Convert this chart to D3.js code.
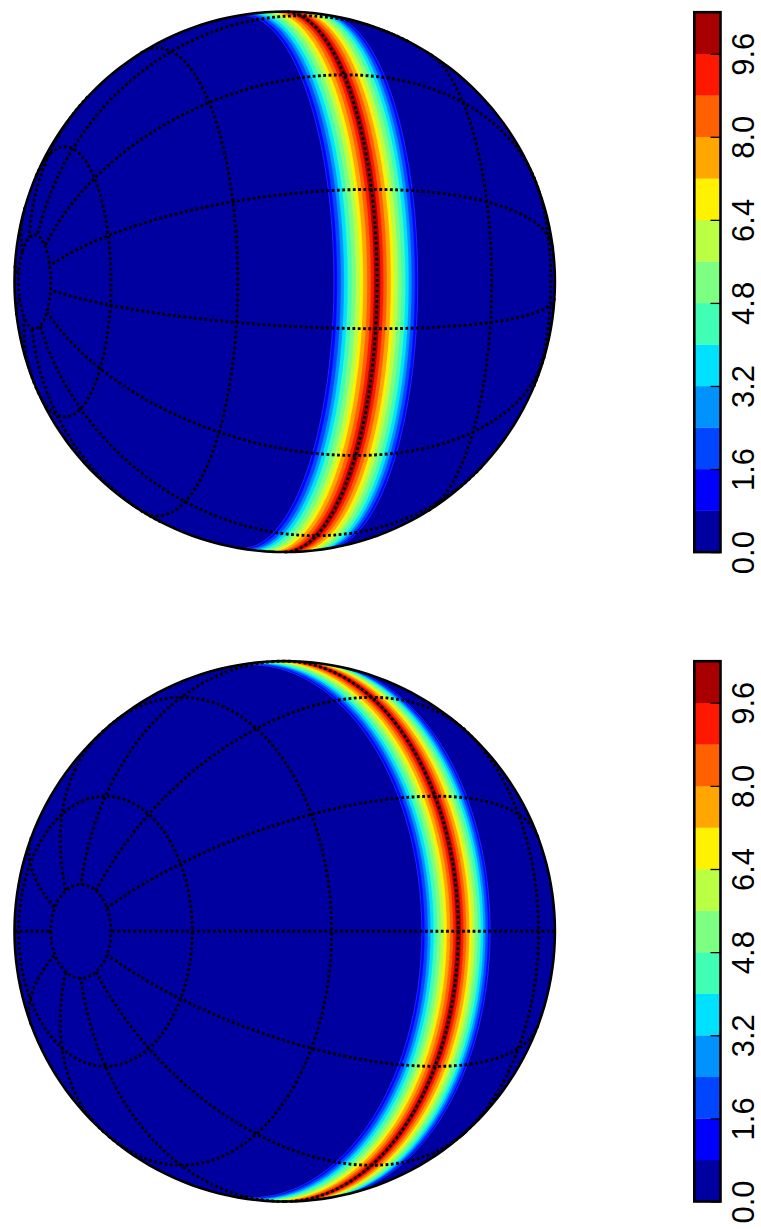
<!DOCTYPE html>
<html>
<head>
<meta charset="utf-8">
<script src="https://cdn.jsdelivr.net/npm/d3@7/dist/d3.min.js"></script>
<style>html,body{margin:0;padding:0;background:#fff}svg{display:block}</style>
</head>
<body>
<svg id="chart" width="761" height="1229"></svg>
<script>
// Contour levels of the colour bar and their colours (one colour per band)
const levels = [0.0,0.8,1.6,2.4,3.2,4.0,4.8,5.6,6.4,7.2,8.0,8.8,9.6,10.4];
const bandColors = ["#0000a0","#0000ff","#0045ff","#0093ff","#00e1ff","#40ffb4","#7dff82","#bbff44","#fff200","#ffa600","#ff6100","#ff1800","#a80000"];
const tickValues = [0.0,1.6,3.2,4.8,6.4,8.0,9.6];
// Half-width in degrees of latitude of the region above each level 0.8 ... 9.6
const bandHalfWidths = [9.5,8.8,8.0,7.3,6.5,5.6,4.7,3.8,3.1,2.2,1.4,0.7];
// Globe views
const viewLons = [40,0];
const viewLats = [20,40];
// Graticule
const meridianLons = [0,30,60,90,120,150,180,210,240,270,300,330];
const parallelLats = [80,60,30,0,-30,-60,-80];

const svg=d3.select("#chart");
const R=270.2, CX=284.7;
const centersY=[281.8,931.3];
const barTop=[12.2,661.2], barBottom=[552.1,1201.5];
const barLeft=694.3, barRight=720.5;

function seq(a,b,step){const r=[];for(let v=a;v<=b+1e-9;v+=step)r.push(v);return r;}
viewLons.forEach((lon0,v)=>{
  const lat0=viewLats[v], cy=centersY[v];
  const projection=d3.geoOrthographic()
    .rotate([-lon0,-lat0,90])
    .scale(R).translate([CX,cy]).clipAngle(90).precision(0.2);
  const path=d3.geoPath(projection);
  const g=svg.append("g");
  g.append("path").datum({type:"Sphere"}).attr("d",path).attr("fill",bandColors[0]);
  // filled contour bands, outer to inner
  bandHalfWidths.forEach((w,i)=>{
    const parts=[];
    for(let a=-180;a<180;a+=60){
      const sub=seq(a,a+60,3);
      const ring=[...sub.map(l=>[l,w]),...sub.slice().reverse().map(l=>[l,-w])];
      ring.push(ring[0]);
      parts.push([ring]);
    }
    g.append("path").datum({type:"MultiPolygon",coordinates:parts})
      .attr("d",path).attr("fill",bandColors[i+1])
      .attr("stroke",bandColors[i+1]).attr("stroke-width",0.2);
  });
  // faint light rim along the outermost contour
  const w0=bandHalfWidths[0];
  g.append("path").datum({type:"MultiLineString",coordinates:[w0,-w0].map(w=>seq(-180,180,3).map(l=>[l,w]))})
    .attr("d",path).attr("fill","none").attr("stroke","#3a55ff").attr("stroke-width",0.5);
  // graticule
  const lineStyle=sel=>sel.attr("fill","none").attr("stroke","#000").attr("stroke-width",2.9).attr("stroke-dasharray","2.8 2.5");
  parallelLats.forEach(lat=>{
    g.append("path").datum({type:"LineString",coordinates:seq(-180,180,2).map(l=>[l,lat])})
      .attr("d",path).call(lineStyle);
  });
  meridianLons.forEach(lon=>{
    g.append("path").datum({type:"LineString",coordinates:seq(-80,80,2).map(p=>[lon,p])})
      .attr("d",path).call(lineStyle);
  });
  g.append("path").datum({type:"Sphere"}).attr("d",path).attr("fill","none").attr("stroke","#000").attr("stroke-width",2.6);

  // colour bar
  const y=d3.scaleLinear().domain([levels[0],levels[levels.length-1]]).range([barBottom[v],barTop[v]]);
  const bar=svg.append("g");
  bar.selectAll("rect.band").data(bandColors).join("rect").attr("class","band")
    .attr("x",barLeft).attr("width",barRight-barLeft)
    .attr("y",(d,i)=>y(levels[i+1])).attr("height",(d,i)=>y(levels[i])-y(levels[i+1])+0.3)
    .attr("fill",d=>d);
  const axis=d3.axisRight(y).tickValues(tickValues).tickFormat(d3.format(".1f")).tickSizeInner(-10).tickSizeOuter(0).tickPadding(0);
  const ag=bar.append("g").attr("transform",`translate(${barRight},0)`).call(axis);
  ag.select(".domain").remove();
  ag.selectAll("line").attr("stroke","#000").attr("stroke-width",1.3);
  ag.selectAll("text")
    .attr("font-family","'Liberation Sans',Arial,sans-serif").attr("font-size",31).attr("fill","#000")
    .attr("text-anchor","middle").attr("dy",null).attr("x",null).attr("y",null)
    .attr("transform","translate(33.5,0) rotate(-90)");
  bar.append("rect").attr("x",barLeft).attr("y",barTop[v]).attr("width",barRight-barLeft).attr("height",barBottom[v]-barTop[v])
    .attr("fill","none").attr("stroke","#000").attr("stroke-width",2.6);
});
</script>
</body>
</html>
